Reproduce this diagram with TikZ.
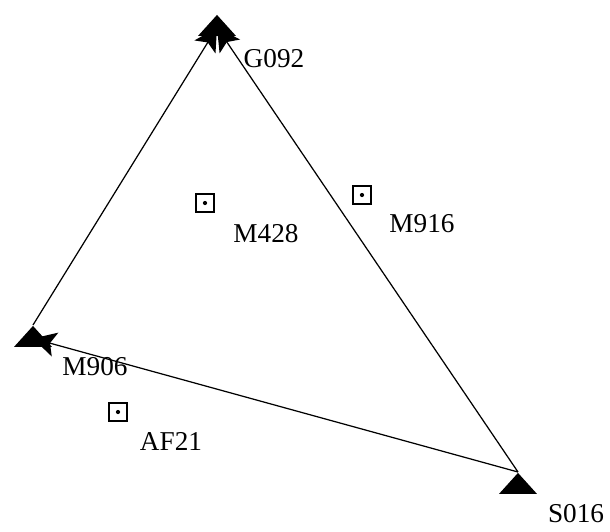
\documentclass[tikz,border=0pt]{standalone}
\usepackage{fontspec}
\setmainfont{Liberation Serif}
\usetikzlibrary{positioning, arrows.meta, shapes.geometric}

\begin{document}
\begin{tikzpicture}[x=0.02cm, y=-0.02cm, every node/.style={inner sep=1pt},
  station/.style={isosceles triangle, isosceles triangle stretches, shape border rotate=90,
    fill=black, minimum width=0.76cm, minimum height=0.42cm, inner sep=0pt, anchor=apex},
  spot/.style={draw, rectangle, line width=0.7pt, minimum size=0.36cm, inner sep=0pt},
  tag/.style={font=\fontsize{15.5}{18}\selectfont},
  side/.style={-{Stealth[length=13pt,width=14pt,inset=3pt]}, line width=0.7pt}]
  \useasboundingbox (0,0) rectangle (610,532);
  % triangulation stations
  \node[station] (g092) at (217,14) {};
  \node[station] (s016) at (518,472) {};
  \node[station] (m906) at (33,325) {};
  \node[tag] (g092l) at (274,59) {G092};
  \node[tag] (s016l) at (576,514) {S016};
  \node[tag] (m906l) at (95,367) {M906};
  % points inside
  \node[spot] (m428) at (205,203) {};
  \node[spot] (m916) at (362,195) {};
  \node[spot] (af21) at (118,412) {};
  \fill (m428.center) circle (1.2pt);
  \fill (m916.center) circle (1.2pt);
  \fill (af21.center) circle (1.2pt);
  \node[tag] (m428l) at (266,234) {M428};
  \node[tag] (m916l) at (422,224) {M916};
  \node[tag] (af21l) at (171,441) {AF21};
  % sides
  \draw[side] (m906.apex) -- (g092.center);
  \draw[side] (s016.apex) -- (g092.center);
  \draw[side] (s016.apex) -- (m906.center);
\end{tikzpicture}
\end{document}
